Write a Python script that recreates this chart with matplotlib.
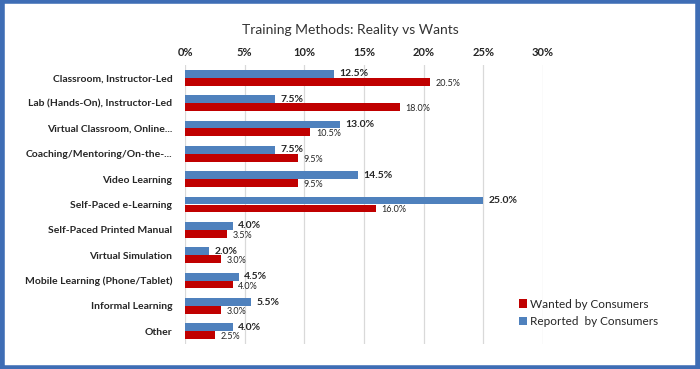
import numpy as np
import matplotlib.pyplot as plt
from matplotlib.patches import Rectangle

categories = [
    "Classroom, Instructor-Led",
    "Lab (Hands-On), Instructor-Led",
    "Virtual Classroom, Online...",
    "Coaching/Mentoring/On-the-...",
    "Video Learning",
    "Self-Paced e-Learning",
    "Self-Paced Printed Manual",
    "Virtual Simulation",
    "Mobile Learning (Phone/Tablet)",
    "Informal Learning",
    "Other",
]
reported = [12.5, 7.5, 13.0, 7.5, 14.5, 25.0, 4.0, 2.0, 4.5, 5.5, 4.0]
wanted = [20.5, 18.0, 10.5, 9.5, 9.5, 16.0, 3.5, 3.0, 4.0, 3.0, 2.5]
ticks = [0, 5, 10, 15, 20, 25, 30]

BLUE = '#4F81BD'
RED = '#C00000'
TXT = '#262626'

plt.rcParams['font.family'] = ['Lato', 'DejaVu Sans']

fig = plt.figure(figsize=(7, 3.69), dpi=100)
fig.patch.set_facecolor('white')
fig.patches.append(Rectangle((0.003, 0.004), 0.994, 0.992, transform=fig.transFigure,
                             fill=False, edgecolor='#3E6DB5', linewidth=4))

ax = fig.add_axes([185 / 700, 1 - 344 / 369, 358 / 700, 279 / 369])
y = np.arange(len(categories))
h = 0.31
ax.barh(y - h / 2, reported, height=h, color=BLUE, label='Reported  by Consumers')
ax.barh(y + h / 2, wanted, height=h, color=RED, label='Wanted by Consumers')

for yi, v in zip(y, reported):
    ax.annotate(f"{v:.1f}%", (v, yi - h / 2), xytext=(4, 0), textcoords='offset points',
                va='center', ha='left', fontsize=7.5, fontweight='bold', color=TXT)
for yi, v in zip(y, wanted):
    ax.annotate(f"{v:.1f}%", (v, yi + h / 2 + 0.06), xytext=(4, 0), textcoords='offset points',
                va='center', ha='left', fontsize=6.5, color=TXT)

ax.set_xlim(0, 30)
ax.set_ylim(len(categories) - 0.5, -0.5)
ax.set_xticks(ticks)
ax.set_xticklabels([f"{t}%" for t in ticks], fontsize=8, fontweight='bold', color=TXT)
ax.xaxis.tick_top()
ax.set_yticks(y)
ax.set_yticklabels(categories, fontsize=7.5, fontweight='bold', color=TXT)
ax.tick_params(axis='y', length=0, pad=9)
ax.tick_params(axis='x', length=0, pad=5)
ax.grid(axis='x', color='#D9D9D9', linewidth=0.9)
ax.set_axisbelow(True)
for s in ax.spines.values():
    s.set_visible(False)

handles, labels = ax.get_legend_handles_labels()
fig.legend(handles[::-1], labels[::-1], loc='upper left', bbox_to_anchor=(508 / 700, 1 - 288 / 369),
           frameon=False, fontsize=8.5, handlelength=0.7, handleheight=0.7, handletextpad=0.3,
           labelspacing=0.55, labelcolor=TXT)

fig.text(0.5, 1 - 30 / 369, "Training Methods: Reality vs Wants", ha='center', va='center',
         fontsize=10, color='#333333')

plt.savefig('out.png', dpi=100)
